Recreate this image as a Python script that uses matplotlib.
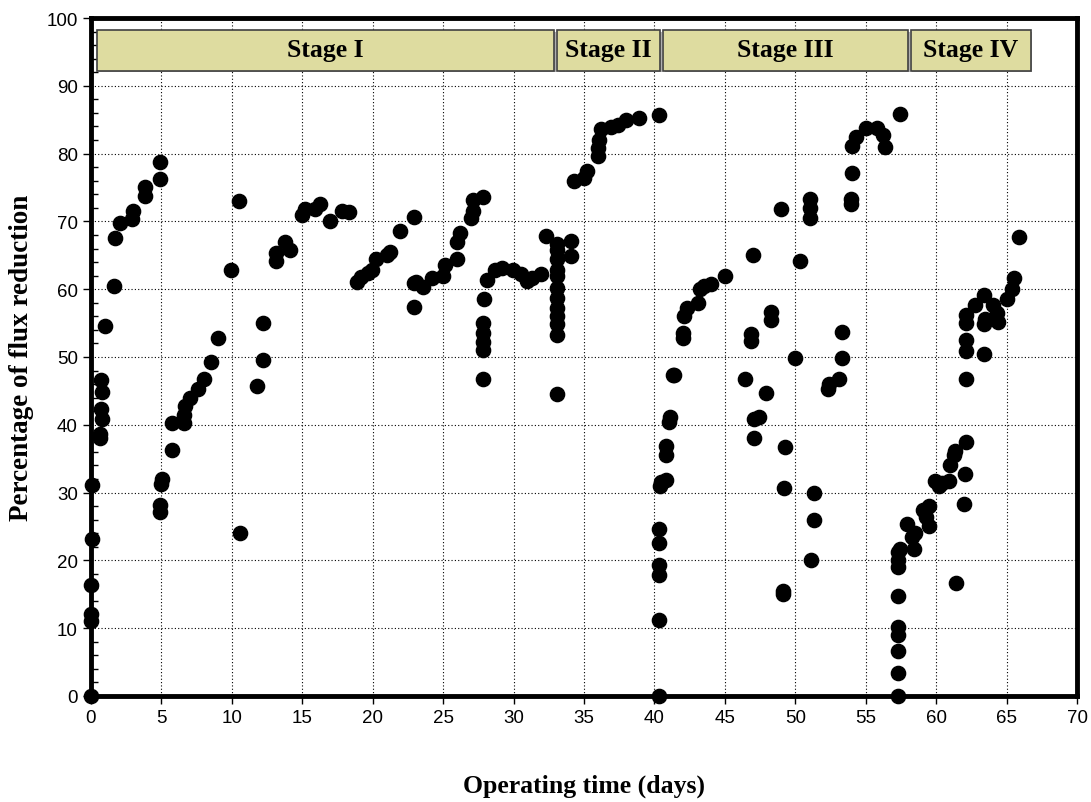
import matplotlib.pyplot as plt
from matplotlib.patches import Rectangle
from matplotlib.ticker import MultipleLocator

# --- Dane (dzien, % redukcji strumienia) ---
etap1_x = [0, 0, 0, 0, 0.05, 0.1, 0.65, 0.65, 0.8, 0.7, 0.8, 0.7, 1.0, 1.65, 1.7, 2.06,
           2.93, 2.98, 3.8, 3.8, 4.93, 4.93, 5.0, 5.05, 4.93, 4.93, 5.75, 5.75, 6.6, 6.6,
           6.65, 7.0, 7.6, 8.05, 8.5, 9.05, 9.95, 10.5, 10.6, 11.8, 12.2, 12.2, 13.1, 13.1,
           13.76, 14.1, 14.95, 15.2, 15.9, 16.26, 17.0, 17.8, 18.3, 18.9, 19.15, 19.7, 19.94,
           20.25, 21.0, 21.25, 21.96, 22.9, 22.9, 22.9, 23.1, 23.6, 24.2, 25.0, 25.1, 26.0,
           26.0, 26.2, 27.0, 27.1, 27.1, 27.86, 27.9, 27.86, 27.86, 27.86, 27.86, 27.86,
           28.1, 28.7, 29.2, 29.95, 30.5, 30.95, 31.3, 31.95, 32.3]
etap1_y = [0, 11.0, 12.1, 16.4, 23.1, 31.1, 38.0, 38.7, 40.9, 42.4, 44.9, 46.6, 54.6, 60.5,
           67.6, 69.7, 70.3, 71.5, 73.7, 75.1, 76.2, 78.7, 31.2, 32.0, 28.2, 27.2, 36.3, 40.2,
           40.2, 41.4, 42.8, 44.0, 45.3, 46.7, 49.2, 52.8, 62.9, 73.0, 24.1, 45.7, 55.0, 49.5,
           64.2, 65.3, 66.9, 65.8, 71.0, 71.9, 71.8, 72.6, 70.1, 71.5, 71.4, 61.1, 61.8, 62.4,
           62.8, 64.5, 65.1, 65.5, 68.6, 70.7, 57.4, 60.9, 61.0, 60.3, 61.7, 61.9, 63.6, 64.5,
           67.0, 68.3, 70.5, 71.5, 73.2, 73.6, 58.5, 55.0, 53.6, 52.2, 51.1, 46.7,
           61.4, 62.8, 63.1, 62.8, 62.2, 61.2, 61.7, 62.3, 67.9]

etap2_x = [33.1, 33.1, 33.1, 33.1, 33.1, 33.1, 33.1, 33.1, 33.1, 33.1, 33.1, 33.1, 34.05,
           34.05, 34.3, 35.0, 35.2, 36.0, 36.0, 36.1, 36.2, 36.9, 37.4, 38.0, 38.9, 40.3]
etap2_y = [66.6, 65.8, 64.4, 62.9, 62.0, 60.2, 58.7, 57.3, 56.0, 54.8, 53.3, 44.5, 67.1,
           64.9, 75.9, 76.4, 77.5, 79.7, 80.8, 82.0, 83.6, 83.9, 84.2, 85.0, 85.2, 85.7]

etap3_x = [40.3, 40.3, 40.35, 40.35, 40.35, 40.35, 40.4, 40.5, 40.8, 40.8, 40.8, 41.06,
           41.1, 41.3, 41.4, 42.0, 42.0, 42.1, 42.3, 43.1, 43.2, 43.5, 44.0, 45.0, 46.4,
           47.0, 46.85, 46.85, 47.1, 47.4, 47.1, 47.9, 48.3, 48.3, 49.0, 49.1, 49.1, 49.2,
           49.3, 50.0, 50.35, 51.06, 51.06, 51.06, 51.1, 51.35, 51.35, 52.3, 52.4, 53.1,
           53.3, 53.3, 53.95, 53.95, 54.0, 54.0, 54.3, 55.0, 55.8, 56.2, 56.4, 57.4]
etap3_y = [0, 11.2, 17.9, 19.3, 22.6, 24.6, 31.0, 31.6, 31.8, 35.5, 36.8, 40.4,
           41.2, 47.3, 47.4, 52.8, 53.5, 56.0, 57.3, 57.9, 60.0, 60.5, 60.8, 61.9, 46.7,
           65.0, 53.4, 52.3, 40.8, 41.2, 38.0, 44.7, 56.6, 55.4, 71.8, 15.5, 15.1, 30.7,
           36.7, 49.9, 64.1, 73.3, 72.0, 70.5, 20.1, 25.9, 30.0, 45.3, 46.0, 46.7,
           49.9, 53.7, 72.6, 73.3, 77.2, 81.1, 82.5, 83.8, 83.8, 82.8, 80.9, 85.9]

etap4_x = [57.3, 57.3, 57.3, 57.3, 57.3, 57.3, 57.3, 57.3, 57.3, 57.45, 57.9, 58.3, 58.4,
           58.5, 59.1, 59.46, 59.46, 59.3, 59.9, 60.2, 60.4, 60.9, 61.0, 61.3, 61.35, 62.05,
           62.0, 62.1, 61.4, 62.1, 62.15, 62.15, 62.1, 62.15, 62.76, 63.4, 63.4, 63.4, 63.5,
           64.05, 64.3, 64.4, 65.0, 65.35, 65.5, 65.9]
etap4_y = [0, 3.4, 6.7, 9.0, 10.2, 14.7, 19.1, 20.1, 21.2, 21.7, 25.4, 23.4, 21.7,
           24.0, 27.5, 28.0, 25.1, 26.4, 31.7, 30.9, 31.4, 31.7, 34.1, 35.6, 36.2, 32.7,
           28.3, 37.4, 16.7, 46.7, 50.9, 52.5, 55.0, 56.2, 57.7, 59.2, 54.8, 50.5, 55.6,
           57.7, 56.5, 55.1, 58.5, 60.0, 61.6, 67.7]

# --- Etapy ---
etapy_nazwy = ["Stage I", "Stage II", "Stage III", "Stage IV"]
etapy_od = [0.43, 33.1, 40.6, 58.2]
etapy_do = [32.9, 40.4, 58.0, 66.7]

# --- Wykres ---
fig = plt.figure(figsize=(10.91, 8.03), dpi=100)
ax = fig.add_axes([91 / 1091, 106 / 803, 986 / 1091, 678 / 803])

for xs, ys in [(etap1_x, etap1_y), (etap2_x, etap2_y), (etap3_x, etap3_y), (etap4_x, etap4_y)]:
    ax.scatter(xs, ys, s=105, color='black', zorder=3, clip_on=False)

for nazwa, x0, x1 in zip(etapy_nazwy, etapy_od, etapy_do):
    ax.add_patch(Rectangle((x0 + 0.12, 92.0), x1 - x0, 6.0, facecolor='#b0b0b0',
                           edgecolor='none', zorder=4))
    ax.add_patch(Rectangle((x0, 92.2), x1 - x0, 6.0, facecolor='#dedca0',
                           edgecolor='#404040', linewidth=1.2, zorder=5))
    ax.text((x0 + x1) / 2, 95.4, nazwa, ha='center', va='center', fontsize=18.5,
            fontweight='bold', family='Liberation Serif', zorder=6)

ax.set_xlim(0, 70)
ax.set_ylim(0, 100)
ax.xaxis.set_major_locator(MultipleLocator(5))
ax.yaxis.set_major_locator(MultipleLocator(10))
ax.yaxis.set_minor_locator(MultipleLocator(2))
ax.tick_params(axis='both', which='major', direction='out', length=6, width=1,
               labelsize=13.5)
ax.tick_params(axis='y', which='minor', direction='in', length=5, width=1)
for lab in ax.get_xticklabels() + ax.get_yticklabels():
    lab.set_family('Liberation Sans')

ax.grid(True, which='major', color='black', linestyle=(0, (1, 2)), linewidth=0.8)
ax.set_axisbelow(True)
for sp in ax.spines.values():
    sp.set_linewidth(3.5)

ax.set_xlabel("Operating time (days)", fontsize=18.5, fontweight='bold',
              family='Liberation Serif', labelpad=34)
ax.set_ylabel("Percentage of flux reduction", fontsize=19.5, fontweight='bold',
              family='Liberation Serif', labelpad=9)

plt.savefig("out.png", dpi=100)
